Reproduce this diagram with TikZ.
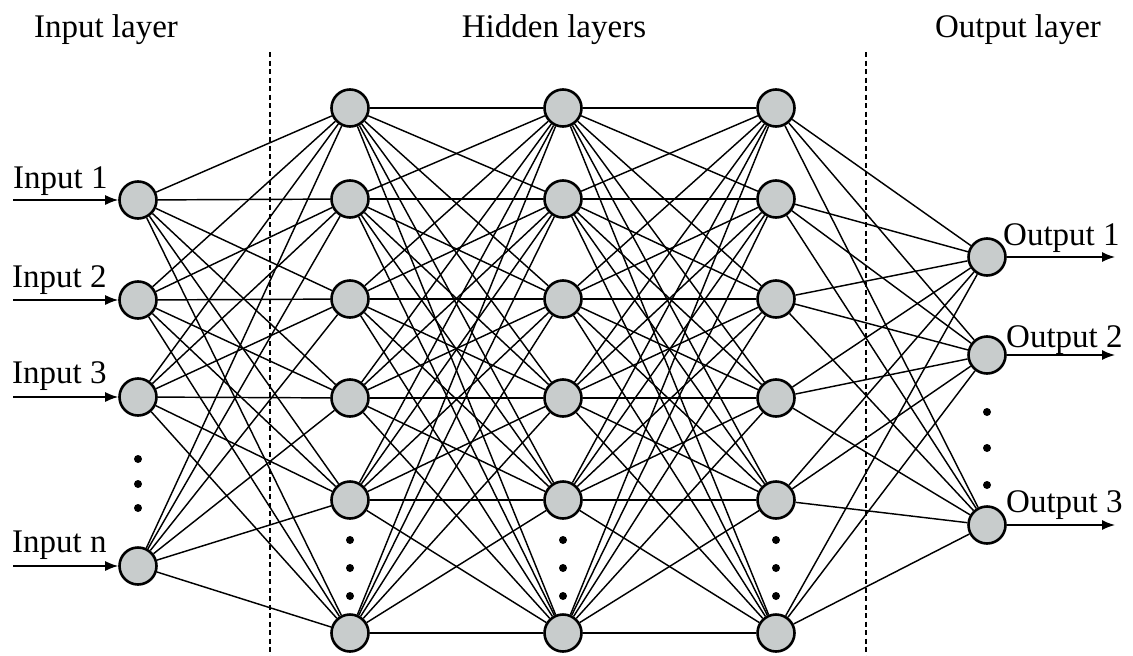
\documentclass[tikz,border=0pt]{standalone}
\usepackage{fontspec}
\setmainfont{Liberation Serif}
\usetikzlibrary{arrows.meta}
\definecolor{nodegray}{RGB}{200,204,204}
\begin{document}
\begin{tikzpicture}[x=1pt,y=-1pt,
  neuron/.style={circle,draw=black,line width=2.6pt,fill=nodegray,minimum size=37pt,inner sep=0pt},
  link/.style={line width=1.45pt},
  io/.style={link,-{Latex[length=13pt,width=10pt]}},
  divider/.style={line width=1.5pt,dash pattern=on 5pt off 3.5pt},
  dotmark/.style={circle,fill=black,minimum size=8pt,inner sep=0pt},
  txt/.style={inner sep=0pt,font=\fontsize{33}{40}\selectfont},
]
\useasboundingbox (0,0) rectangle (1133,656);

% layer titles
\node[txt,anchor=base] (tin) at (106,37) {Input layer};
\node[txt,anchor=base] (thid) at (554,37) {Hidden layers};
\node[txt,anchor=base] (tout) at (1018,37) {Output layer};

% dashed separators
\coordinate (d1a) at (270,52); \coordinate (d1b) at (270,656);
\coordinate (d2a) at (866,52); \coordinate (d2b) at (866,656);
\draw[divider] (d1a) -- (d1b);
\draw[divider] (d2a) -- (d2b);

% neurons
\foreach \y [count=\i] in {200,300,397,566}
  \node[neuron] (I\i) at (138,\y) {};
\foreach \x/\l in {350/A,563/B,776/C}
  \foreach \y [count=\i] in {108,199,299,398,500,633}
    \node[neuron] (\l\i) at (\x,\y) {};
\foreach \y [count=\i] in {257,355,525}
  \node[neuron] (O\i) at (987,\y) {};

% vertical ellipses
\foreach \y [count=\i] in {459,484,508}
  \node[dotmark] (dI\i) at (138,\y) {};
\foreach \x/\l in {350/A,563/B,776/C}
  \foreach \y [count=\i] in {540,568,596}
    \node[dotmark] (d\l\i) at (\x,\y) {};
\foreach \y [count=\i] in {412,448,485}
  \node[dotmark] (dO\i) at (987,\y) {};

% full connections between consecutive layers
\foreach \a in {1,...,4}
  \foreach \b in {1,...,6}
    \draw[link] (I\a) -- (A\b);
\foreach \a in {1,...,6}
  \foreach \b in {1,...,6} {
    \draw[link] (A\a) -- (B\b);
    \draw[link] (B\a) -- (C\b);
  }
\foreach \a in {1,...,6}
  \foreach \b in {1,...,3}
    \draw[link] (C\a) -- (O\b);

% inputs
\foreach \y/\t [count=\i] in {200/1,300/2,397/3,566/n} {
  \coordinate (src\i) at (13,\y);
  \draw[io] (src\i) -- (I\i);
}
\node[txt,anchor=base west] (lI1) at (13,188) {Input 1};
\node[txt,anchor=base west] (lI2) at (12,287) {Input 2};
\node[txt,anchor=base west] (lI3) at (12,383) {Input 3};
\node[txt,anchor=base west] (lI4) at (12,552) {Input n};

% outputs
\foreach \y [count=\i] in {257,355,525} {
  \coordinate (dst\i) at (1115,\y);
  \draw[io] (O\i) -- (dst\i);
}
\node[txt,anchor=base west] (lO1) at (1003,245) {Output 1};
\node[txt,anchor=base west] (lO2) at (1006,347) {Output 2};
\node[txt,anchor=base west] (lO3) at (1006,512) {Output 3};
\end{tikzpicture}
\end{document}
